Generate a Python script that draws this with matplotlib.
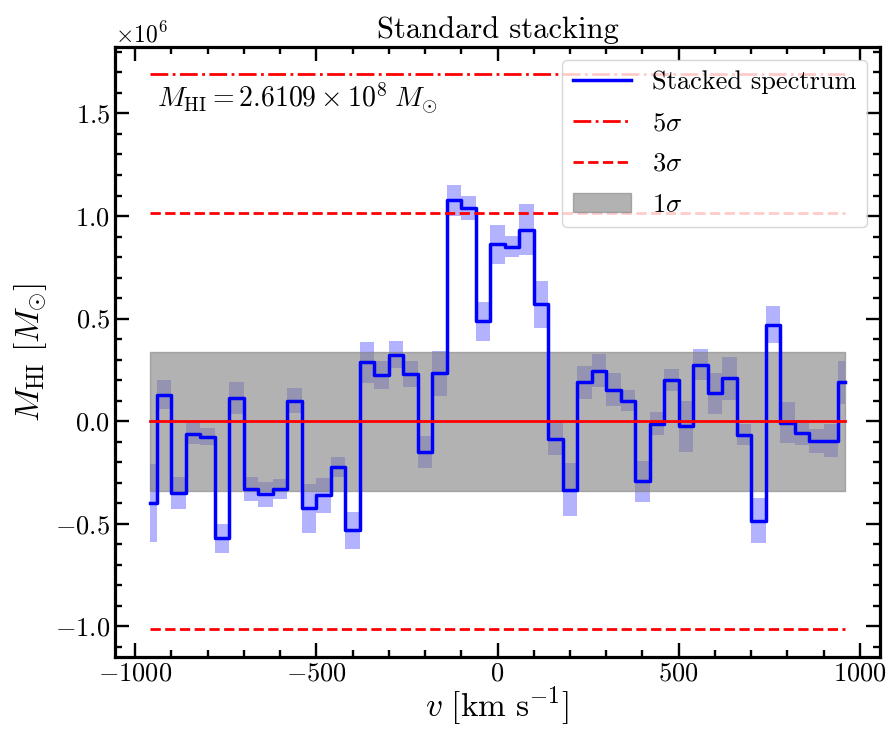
import numpy as np
import matplotlib
matplotlib.use("Agg")
import matplotlib.pyplot as plt

plt.rcParams["font.family"] = "serif"
plt.rcParams["font.serif"] = ["cmr10", "DejaVu Serif"]
plt.rcParams["mathtext.fontset"] = "cm"
plt.rcParams["axes.formatter.use_mathtext"] = True
plt.rcParams["axes.unicode_minus"] = True

# ── data (units of 1e6 Msun) ─────────────────────────────────────────────────
velocity = np.arange(-960, 961, 40)
mass = np.array([
    -0.40, 0.13, -0.35, -0.061, -0.075, -0.57, 0.113, -0.33, -0.357, -0.33,
    0.10, -0.425, -0.36, -0.224, -0.532, 0.288, 0.225, 0.325, 0.23, -0.15,
    0.234, 1.077, 1.04, 0.487, 0.863, 0.851, 0.933, 0.569, -0.085, -0.333,
    0.19, 0.247, 0.153, 0.10, -0.293, -0.012, 0.20, -0.025, 0.275, 0.136,
    0.21, -0.066, -0.484, 0.47, -0.007, -0.056, -0.096, -0.096, 0.19,
]) * 1e6
mass_err = np.array([
    0.19, 0.07, 0.077, 0.05, 0.04, 0.07, 0.08, 0.06, 0.06, 0.05,
    0.06, 0.12, 0.085, 0.05, 0.09, 0.10, 0.07, 0.065, 0.065, 0.077,
    0.11, 0.075, 0.06, 0.095, 0.095, 0.05, 0.125, 0.115, 0.08, 0.13,
    0.08, 0.08, 0.08, 0.05, 0.10, 0.055, 0.055, 0.125, 0.075, 0.10,
    0.105, 0.05, 0.11, 0.09, 0.10, 0.06, 0.06, 0.08, 0.105,
]) * 1e6
sigma = 0.338e6
total_mass_text = r"$M_{\rm HI} = 2.6109 \times 10^8\;M_{\odot}$"

# ── plot ─────────────────────────────────────────────────────────────────────
fig = plt.figure(figsize=(8.9, 7.3), dpi=100)
ax = fig.add_axes([0.129, 0.1, 0.86, 0.836])

ax.fill_between(velocity, mass - mass_err, mass + mass_err, step="mid",
                color="blue", alpha=0.3, linewidth=0)
ax.step(velocity, mass, where="mid", color="blue", lw=2.5, label="Stacked spectrum")

ones = np.ones_like(velocity, dtype=float)
ax.plot(velocity, 5 * sigma * ones, color="red", ls="-.", lw=2, label=r"$5\sigma$")
ax.plot(velocity, 3 * sigma * ones, color="red", ls="--", lw=2, label=r"$3\sigma$")
ax.plot(velocity, -3 * sigma * ones, color="red", ls="--", lw=2)
ax.plot(velocity, 0 * ones, color="red", ls="-", lw=2)
ax.fill_between(velocity, -sigma, sigma, color="gray", alpha=0.6, label=r"$1\sigma$")

ax.text(0.055, 0.915, total_mass_text, transform=ax.transAxes, fontsize=20,
        va="center", ha="left")

ax.set_title("Standard stacking", fontsize=22)
ax.set_xlabel(r"$v\ [{\rm km\ s^{-1}}]$", fontsize=24, labelpad=-1)
ax.set_ylabel(r"$M_{\rm HI}\ [M_{\odot}]$", fontsize=24)

ax.set_xticks([-1000, -500, 0, 500, 1000])
ax.set_xticks(np.arange(-1000, 1001, 100), minor=True)
ax.set_yticks(np.arange(-1.0e6, 1.6e6, 0.5e6))
ax.set_yticks(np.arange(-1.1e6, 1.85e6, 0.1e6), minor=True)
ax.tick_params(which="both", direction="in", top=True, right=True, labelsize=19)
ax.tick_params(which="major", length=10, width=1.7)
ax.tick_params(which="minor", length=5, width=1.7)
ax.yaxis.get_offset_text().set_fontsize(17)
for sp in ax.spines.values():
    sp.set_linewidth(2.3)

ax.legend(loc="upper right", fontsize=19, handlelength=2.2, framealpha=0.8,
          labelspacing=0.65)

plt.savefig("out.png", dpi=100)
